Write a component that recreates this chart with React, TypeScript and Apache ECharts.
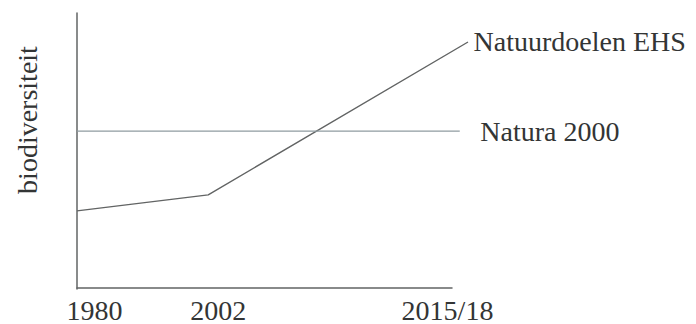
import React, { useEffect, useRef } from "react";
import * as echarts from "echarts";

// schematic time positions (0 = 1980, 100 = 2015/18)
const tickPositions = [0, 35, 100];
const tickLabels = ["1980", "2002", "2015/18"];

const seriesNames = ["Natuurdoelen EHS", "Natura 2000"];
const ehsValues: [number, number][] = [
  [0, 28.3],
  [35, 34.1],
  [104.3, 89.5],
];
const naturaValues: [number, number][] = [
  [0, 57.2],
  [102.1, 57.2],
];
const yAxisName = "biodiversiteit";

// the lines run a little past the end of the drawn time axis
const PLOT_X_MAX = 104.3;
const AXIS_X_MAX = 100;

const FONT = "'Liberation Serif', 'DejaVu Serif', serif";
const TEXT = "#333535";
const FS = 28;

function withEndLabel(values: [number, number][], distance: number) {
  return values.map((v, i) =>
    i === values.length - 1
      ? {
          value: v,
          label: {
            show: true,
            position: "right",
            distance,
            formatter: "{a}",
            color: TEXT,
            fontFamily: FONT,
            fontSize: FS,
          },
        }
      : { value: v }
  );
}

export default function App() {
  const ref = useRef<HTMLDivElement>(null);
  useEffect(() => {
    if (!ref.current) return;
    const chart = echarts.init(ref.current, undefined, { renderer: "svg" });
    const keys = ["a", "b", "c"];
    const labelMap: Record<number, string> = {};
    tickPositions.forEach((p, i) => (labelMap[p] = `{${keys[i]}|${tickLabels[i]}}`));
    const rs = { fontFamily: FONT, fontSize: FS, color: TEXT };
    const left = 77;
    const axisRight = 244; // drawn x axis ends at 452px
    const axisWidth = 696 - left - axisRight;
    const plotRight = 696 - left - Math.round((axisWidth * PLOT_X_MAX) / AXIS_X_MAX);
    chart.setOption({
      animation: false,
      backgroundColor: "#ffffff",
      grid: [
        { left, right: plotRight, top: 13, bottom: 35 },
        { left, right: axisRight, top: 13, bottom: 35 },
      ],
      xAxis: [
        {
          gridIndex: 0,
          type: "value",
          min: 0,
          max: PLOT_X_MAX,
          show: false,
          splitLine: { show: false },
        },
        {
          gridIndex: 1,
          type: "value",
          min: 0,
          max: AXIS_X_MAX,
          interval: 5,
          axisLine: { show: true, lineStyle: { color: "#626464", width: 1.5 } },
          axisTick: { show: false },
          splitLine: { show: false },
          axisLabel: {
            show: true,
            formatter: (v: number) => labelMap[v] ?? "",
            color: TEXT,
            fontFamily: FONT,
            fontSize: FS,
            margin: 8,
            showMinLabel: true,
            showMaxLabel: true,
            rich: {
              a: { ...rs, padding: [0, 0, 0, 35] },
              b: { ...rs, padding: [0, 0, 0, 20] },
              c: { ...rs, padding: [0, 9, 0, 0] },
            },
          },
        },
      ],
      yAxis: [
        {
          gridIndex: 0,
          type: "value",
          min: 0,
          max: 100,
          name: yAxisName,
          nameLocation: "middle",
          nameGap: 36,
          nameRotate: 90,
          nameTextStyle: { color: TEXT, fontFamily: FONT, fontSize: FS, padding: [0, 0, 0, 62] },
          axisLine: { show: true, lineStyle: { color: "#626464", width: 1.5 } },
          axisTick: { show: false },
          axisLabel: { show: false },
          splitLine: { show: false },
        },
        {
          gridIndex: 1,
          type: "value",
          min: 0,
          max: 100,
          show: false,
          splitLine: { show: false },
        },
      ],
      series: [
        {
          name: seriesNames[0],
          type: "line",
          xAxisIndex: 0,
          yAxisIndex: 0,
          data: withEndLabel(ehsValues, 5),
          symbol: "circle",
          symbolSize: 1,
          showSymbol: true,
          itemStyle: { color: "rgba(0,0,0,0)" },
          lineStyle: { color: "#626464", width: 1.4 },
        },
        {
          name: seriesNames[1],
          type: "line",
          xAxisIndex: 0,
          yAxisIndex: 0,
          data: withEndLabel(naturaValues, 20),
          symbol: "circle",
          symbolSize: 1,
          showSymbol: true,
          itemStyle: { color: "rgba(0,0,0,0)" },
          lineStyle: { color: "#8f9ba0", width: 1.3 },
        },
      ],
    });
    return () => chart.dispose();
  }, []);
  return <div ref={ref} style={{ width: 696, height: 324, position: "absolute", left: 0, top: 0 }} />;
}
